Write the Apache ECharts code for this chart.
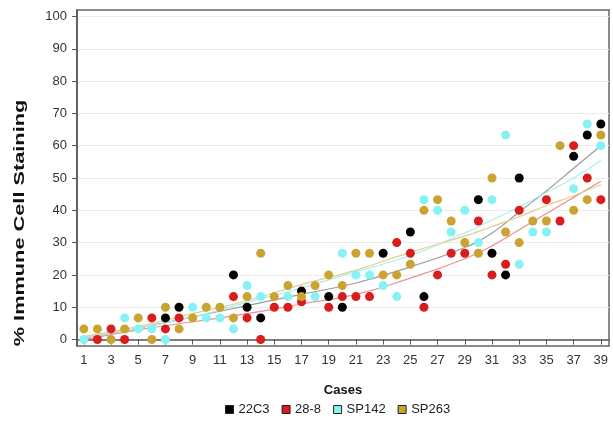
<!DOCTYPE html>
<html><head><meta charset="utf-8">
<script src="https://cdn.jsdelivr.net/npm/echarts@6/dist/echarts.min.js"></script>
<style>html,body{margin:0;padding:0;background:#fff}#c{width:613px;height:428px}</style>
</head><body><div id="c"></div>
<script>
// Values; null = dot fully hidden under another marker (not readable)
const cases = Array.from({length:39},(_,i)=>i+1);
const xTicks = [1,3,5,7,9,11,13,15,17,19,21,23,25,27,29,31,33,35,37,39];
const yTicks = [0,10,20,30,40,50,60,70,80,90,100];
const seriesNames = ['22C3','28-8','SP142','SP263'];
const v22C3 = [null,null,null,null,null,null,6.7,10,null,null,null,20,10,6.7,null,null,15,null,13.3,10,null,null,26.7,null,33.3,13.3,null,null,null,43.3,26.7,20,50,null,null,null,56.7,63.3,66.7];
const v28_8 = [null,0,3.3,0,null,6.7,3.3,6.7,null,null,null,13.3,6.7,0,10,10,11.7,null,10,13.3,13.3,13.3,null,30,26.7,10,20,26.7,26.7,36.7,20,23.3,40,null,43.3,36.7,60,50,43.3];
const vSP142 = [0,null,null,6.7,3.3,3.3,0,null,10,6.7,6.7,3.3,16.7,13.3,null,13.3,null,13.3,null,26.7,20,20,16.7,13.3,null,43.3,40,33.3,40,30,43.3,63.3,23.3,33.3,33.3,null,46.7,66.7,60];
const vSP263 = [3.3,3.3,0,3.3,6.7,0,10,3.3,6.7,10,10,6.7,13.3,26.7,13.3,16.7,13.3,16.7,20,16.7,26.7,26.7,20,20,23.3,40,43.3,36.7,30,26.7,50,33.3,30,36.7,36.7,60,40,43.3,63.3];
const trendX = [1,5,9,13,17,21,25,29,31,33,35,37,39];
const t22C3 = [0.5,3.5,7,10.5,14,17.5,22.5,28.5,33,39.5,46,53,60];
const t28_8 = [0,3,5.5,8,11,14,19,25,29,34,39,44,49];
const tSP142 = [0.5,3.5,7,11.5,16,21,26,33,37,41,45.5,50,55.5];
const tSP263 = [1,4,8,12,17,21.5,27,32,35,38,41.5,44.5,48];

const dotColors = ['#000000','#d91c1c','#86f2f6','#c9a430'];
const lineColors = ['#9a9a9a','#ee9090','#a8eef3','#e2cf8a'];
const values = [v22C3,v28_8,vSP142,vSP263];
const trends = [t22C3,t28_8,tSP142,tSP263];

const series = [];
trends.forEach((t,k)=>{
  series.push({type:'line', data:t.map((v,i)=>[trendX[i],v]), smooth:true, symbol:'none',
    lineStyle:{color:lineColors[k], width:1.2}, silent:true, z:3, legendHoverLink:false});
});
values.forEach((vals,k)=>{
  series.push({name:seriesNames[k], type:'scatter',
    data:vals.map((v,i)=>v===null?[cases[i],'-']:[cases[i],v]),
    symbolSize:9, itemStyle:{color:dotColors[k], opacity:1, borderWidth:0}, z:4+k});
});

const chart = echarts.init(document.getElementById('c'), null, {renderer:'canvas'});
chart.setOption({
  animation:false,
  backgroundColor:'#fff',
  textStyle:{fontFamily:'Liberation Sans, Arial, sans-serif'},
  grid:{left:77,right:4,top:10,bottom:82,show:true,borderColor:'#666',borderWidth:1.5,backgroundColor:'transparent'},
  xAxis:{type:'value',min:0.5,max:39.6,
    name:'Cases',nameLocation:'middle',nameGap:38,
    nameTextStyle:{fontWeight:'bold',fontSize:13,color:'#111'},
    axisLine:{show:true,lineStyle:{color:'#555',width:1.5}},
    axisTick:{show:true,length:5,lineStyle:{color:'#555'},customValues:xTicks},
    axisLabel:{customValues:xTicks,color:'#333',fontSize:13,margin:8},
    splitLine:{show:false}},
  yAxis:{type:'value',min:-2,max:102,
    axisLine:{show:true,lineStyle:{color:'#555',width:1.5}},
    axisTick:{show:true,length:5,lineStyle:{color:'#555'},customValues:yTicks},
    axisLabel:{customValues:yTicks,color:'#333',fontSize:13,margin:10},
    splitLine:{show:true,lineStyle:{color:'#ececec',width:1}}},
  legend:{data:seriesNames,left:220,top:398,icon:'rect',itemWidth:8,itemHeight:8,itemGap:12,
    textStyle:{fontSize:13,color:'#222'},
    itemStyle:{borderColor:'#222',borderWidth:1}},
  graphic:[{type:'text',x:20,y:223,rotation:Math.PI/2,scaleX:1.45,
    style:{text:'% Immune Cell Staining',font:'bold 15px "Liberation Sans", Arial, sans-serif',fill:'#111',align:'center',verticalAlign:'middle'}}],
  series:series
});
</script></body></html>
